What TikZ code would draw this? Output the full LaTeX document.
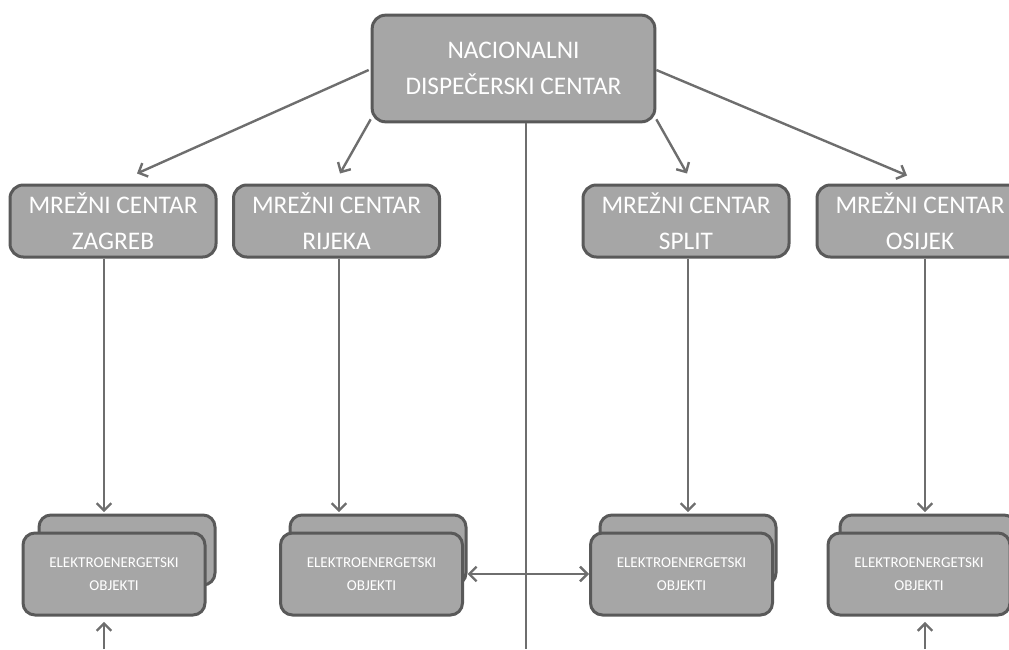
\documentclass[tikz,border=0pt]{standalone}
\usepackage{fontspec}
\setmainfont{Carlito}
\usepackage{tikz}
\usetikzlibrary{arrows.meta,calc}

\definecolor{boxgray}{HTML}{A6A6A6}
\definecolor{edgegray}{HTML}{595959}
\definecolor{linegray}{HTML}{6E6E6E}

\tikzset{
  centerbox/.style={draw=edgegray, fill=boxgray, line width=2.25pt, rounded corners=10pt,
    text=white, align=center, inner sep=0pt, font=\fontsize{19}{27}\selectfont},
  topbox/.style={centerbox, minimum width=212pt, minimum height=80pt},
  netbox/.style={centerbox, minimum width=154.5pt, minimum height=54pt},
  objfront/.style={centerbox, minimum width=136.5pt, minimum height=61.5pt,
    rounded corners=9pt, font=\fontsize{11.3}{17}\selectfont},
  objback/.style={centerbox, minimum width=132pt, minimum height=52.5pt, rounded corners=9pt},
  tip/.style={Straight Barb[length=5.5pt,width=11pt,line width=1.8pt]},
  conn/.style={draw=linegray, line width=1.8pt, -{Straight Barb[length=5.5pt,width=11pt]}},
  plainline/.style={draw=linegray, line width=1.8pt}
}

\begin{document}
\begin{tikzpicture}[x=0.75pt, y=-0.75pt]
    \useasboundingbox (0,0) rectangle (1009,649);
    \clip (0,0) rectangle (1009,649);
    \coordinate (bottom) at (0,649);

    % Draw national centre and network centres
    \node[topbox] (ndc) at (513.5,68.5) {NACIONALNI\\DISPEČERSKI CENTAR};
    \node[netbox] (zg) at (113,221) {MREŽNI CENTAR\\ZAGREB};
    \node[netbox] (rj) at (336.5,221) {MREŽNI CENTAR\\RIJEKA};
    \node[netbox] (sp) at (686,221) {MREŽNI CENTAR\\SPLIT};
    \node[netbox] (os) at (920,221) {MREŽNI CENTAR\\OSIJEK};

    % Draw stacked object boxes
    \node[objback] (zgB) at (127,550) {};
    \node[objback] (rjB) at (378,550) {};
    \node[objback] (spB) at (688,550) {};
    \node[objback] (osB) at (928,550) {};
    \node[objfront] (zgF) at (114,574) {ELEKTROENERGETSKI\\OBJEKTI};
    \node[objfront] (rjF) at (371.5,574) {ELEKTROENERGETSKI\\OBJEKTI};
    \node[objfront] (spF) at (681.5,574) {ELEKTROENERGETSKI\\OBJEKTI};
    \node[objfront] (osF) at (919,574) {ELEKTROENERGETSKI\\OBJEKTI};

    % Arrows from national centre
    \draw[conn] ($(ndc.west)+(-2,1.5)$) -- ($(zg.north)+(24,-10)$);
    \draw[conn] ($(ndc.south west)+(0,-4)$) -- ($(rj.north)+(3.5,-10)$);
    \draw[conn] ($(ndc.south east)+(0,-4)$) -- ($(sp.north)+(1,-10)$);
    \draw[conn] ($(ndc.east)+(0,1.5)$) -- ($(os.north)+(-13,-8)$);

    % Vertical connectors
    \coordinate (zgDown) at ($(zg.south)+(-9,0)$);
    \coordinate (rjDown) at ($(rj.south)+(2.5,0)$);
    \coordinate (spDown) at ($(sp.south)+(2,0)$);
    \coordinate (osDown) at ($(os.south)+(5,0)$);
    \coordinate (ndcDown) at ($(ndc.south)+(12.5,0)$);
    \draw[conn, shorten >=1pt] (zgDown) -- (zgDown |- zgB.north);
    \draw[conn, shorten >=1pt] (rjDown) -- (rjDown |- rjB.north);
    \draw[conn, shorten >=1pt] (spDown) -- (spDown |- spB.north);
    \draw[conn, shorten >=1pt] (osDown) -- (osDown |- osB.north);
    \draw[plainline] (ndcDown) -- (ndcDown |- bottom);

    % Arrows coming from below
    \draw[conn, shorten >=4pt] (zgDown |- bottom) -- (zgDown |- zgF.south);
    \draw[conn, shorten >=4pt] (osDown |- bottom) -- (osDown |- osF.south);

    % Link between Rijeka and Split objects
    \draw[conn, {Straight Barb[length=5.5pt,width=11pt]}-{Straight Barb[length=5.5pt,width=11pt]}]
        (rjF.east -| rjB.east) -- (spF.west);
\end{tikzpicture}
\end{document}
